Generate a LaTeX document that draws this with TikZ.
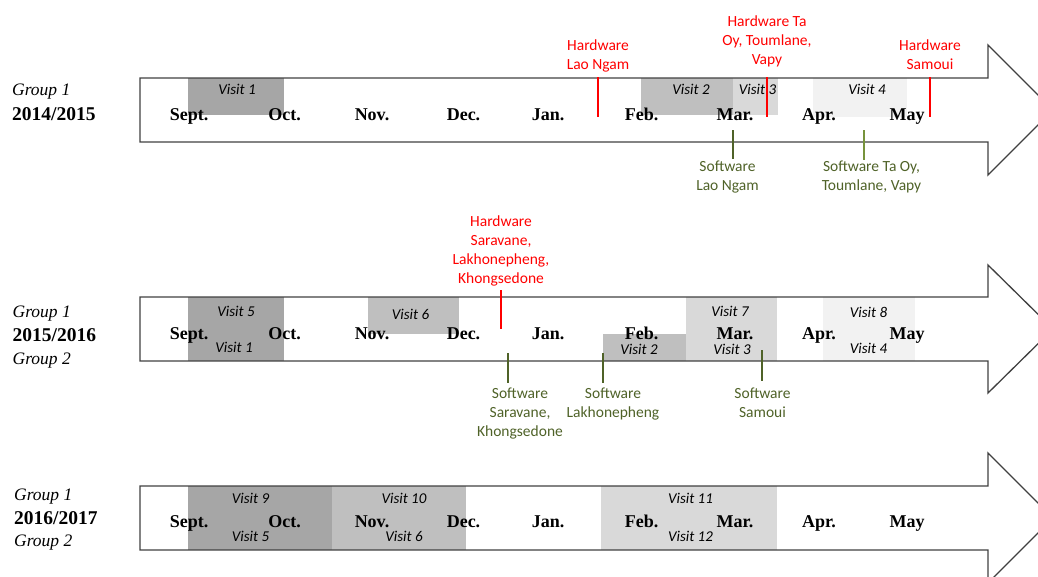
\documentclass[tikz,border=0pt]{standalone}
\usepackage{fontspec}
\newfontfamily\carl{Carlito}
\newfontfamily\lser{Liberation Serif}
\definecolor{hwred}{HTML}{FF0000}
\definecolor{swgreen}{HTML}{4F6228}
\definecolor{swgreenl}{HTML}{77933C}
\definecolor{vA}{HTML}{A6A6A6}
\definecolor{vB}{HTML}{BFBFBF}
\definecolor{vC}{HTML}{D9D9D9}
\definecolor{vD}{HTML}{F2F2F2}
\definecolor{arrowline}{HTML}{404040}
\tikzset{
  month/.style={font=\lser\fontsize{18}{21}\selectfont\bfseries, anchor=base, inner sep=0pt},
  year/.style={font=\lser\fontsize{19.5}{22}\selectfont\bfseries, anchor=base west, inner sep=0pt},
  grp/.style={font=\lser\fontsize{17.5}{21}\selectfont\itshape, anchor=base west, inner sep=0pt},
  visit/.style={font=\carl\fontsize{15}{18}\selectfont\itshape, anchor=base, inner sep=0pt},
  hw/.style={font=\carl\fontsize{15.5}{19}\selectfont, text=hwred, align=center, anchor=north, inner sep=0pt},
  sw/.style={font=\carl\fontsize{15.5}{19}\selectfont, text=swgreen, align=center, anchor=north, inner sep=0pt},
  hwline/.style={draw=hwred, line width=1.2pt},
  swline/.style={draw=swgreen, line width=1.2pt},
  swlinel/.style={draw=swgreenl, line width=1.2pt},
  timearrow/.style={draw=arrowline, line width=1.3pt, line join=miter},
}
\begin{document}
\begin{tikzpicture}[x=1pt,y=-1pt]
\useasboundingbox (0,0) rectangle (1038,576);
\clip (0,0) rectangle (1038,576);

% ---------- Row 1: 2014/2015 ----------
\fill[vA] (188,78) rectangle (284,115);
\fill[vB] (641,78) rectangle (733,115);
\fill[vC] (733,78) rectangle (778,115);
\fill[vD] (813,78) rectangle (907,116.5);
\draw[timearrow] (140,78) -- (988,78) -- (988,45) -- (1053,110) -- (988,175) -- (988,142) -- (140,142) -- cycle;

\node[grp]  (g1a) at (12,95.5) {Group 1};
\node[year] (y1)  at (12,120) {2014/2015};

\node[month] (m1s) at (189,120) {Sept.};
\node[month] (m1o) at (284.5,120) {Oct.};
\node[month] (m1n) at (372,120) {Nov.};
\node[month] (m1d) at (463.5,120) {Dec.};
\node[month] (m1j) at (548,120) {Jan.};
\node[month] (m1f) at (641.5,120) {Feb.};
\node[month] (m1m) at (735,120) {Mar.};
\node[month] (m1a) at (819,120) {Apr.};
\node[month] (m1y) at (907,120) {May};

\node[visit] (v1a) at (237,94.5) {Visit 1};
\node[visit] (v1b) at (691,94.5) {Visit 2};
\node[visit] (v1c) at (757.5,94.5) {Visit 3};
\node[visit] (v1d) at (867,94.5) {Visit 4};

\node[hw] (hw1) at (598,40) {Hardware\\Lao Ngam};
\node[hw] (hw2) at (767,16) {Hardware Ta\\Oy, Toumlane,\\Vapy};
\node[hw] (hw3) at (930,40) {Hardware\\Samoui};
\coordinate (hw1s) at (598,77);
\coordinate (hw2s) at (767,77);
\coordinate (hw3s) at (930,77);
\coordinate (hw1e) at (598,117);
\coordinate (hw2e) at (767,117);
\coordinate (hw3e) at (930,117);
\draw[hwline] (hw1s) -- (hw1e);
\draw[hwline] (hw2s) -- (hw2e);
\draw[hwline] (hw3s) -- (hw3e);

\node[sw] (sw1) at (727.5,161) {Software\\Lao Ngam};
\node[sw] (sw2) at (871.5,161) {Software Ta Oy,\\Toumlane, Vapy};
\coordinate (sw1s) at (733,130);
\coordinate (sw2s) at (864,130);
\coordinate (sw1e) at (733,159);
\coordinate (sw2e) at (864,160);
\draw[swline] (sw1s) -- (sw1e);
\draw[swlinel] (sw2s) -- (sw2e);

% ---------- Row 2: 2015/2016 ----------
\fill[vA] (188,297) rectangle (284,361);
\fill[vB] (368,297) rectangle (459,334);
\fill[vB] (603,334) rectangle (686,361);
\fill[vC] (686,297) rectangle (777,361);
\fill[vD] (823,297) rectangle (915,361);
\draw[timearrow] (140,297) -- (988,297) -- (988,265) -- (1053,329) -- (988,393) -- (988,361) -- (140,361) -- cycle;

\node[grp]  (g2a) at (12.5,317) {Group 1};
\node[year] (y2)  at (12.5,341.5) {2015/2016};
\node[grp]  (g2b) at (12.5,364) {Group 2};

\node[month] (m2s) at (189,339.5) {Sept.};
\node[month] (m2o) at (284.5,339.5) {Oct.};
\node[month] (m2n) at (372,339.5) {Nov.};
\node[month] (m2d) at (463.5,339.5) {Dec.};
\node[month] (m2j) at (548,339.5) {Jan.};
\node[month] (m2f) at (641.5,339.5) {Feb.};
\node[month] (m2m) at (735,339.5) {Mar.};
\node[month] (m2a) at (819,339.5) {Apr.};
\node[month] (m2y) at (907,339.5) {May};

\node[visit] (v2a) at (236,316.5) {Visit 5};
\node[visit] (v2b) at (234,352) {Visit 1};
\node[visit] (v2c) at (410.5,319) {Visit 6};
\node[visit] (v2d) at (639,354) {Visit 2};
\node[visit] (v2e) at (730,316.5) {Visit 7};
\node[visit] (v2f) at (732,354) {Visit 3};
\node[visit] (v2g) at (868.5,317) {Visit 8};
\node[visit] (v2h) at (868.5,353.5) {Visit 4};

\node[hw] (hw4) at (501,216) {Hardware\\Saravane,\\Lakhonepheng,\\Khongsedone};
\coordinate (hw4s) at (501,290);
\coordinate (hw4e) at (501,329);
\draw[hwline] (hw4s) -- (hw4e);

\node[sw] (sw3) at (520,388) {Software\\Saravane,\\Khongsedone};
\node[sw] (sw4) at (613,388) {Software\\Lakhonepheng};
\node[sw] (sw5) at (762.5,388) {Software\\Samoui};
\coordinate (sw3s) at (508,353);
\coordinate (sw4s) at (603,353);
\coordinate (sw5s) at (762,350);
\coordinate (sw3e) at (508,383);
\coordinate (sw4e) at (603,383);
\coordinate (sw5e) at (762,381);
\draw[swline] (sw3s) -- (sw3e);
\draw[swline] (sw4s) -- (sw4e);
\draw[swline] (sw5s) -- (sw5e);

% ---------- Row 3: 2016/2017 ----------
\fill[vA] (188,486) rectangle (332,550);
\fill[vB] (332,486) rectangle (466,550);
\fill[vC] (601,486) rectangle (777,550);
\draw[timearrow] (140,486) -- (988,486) -- (988,453) -- (1053,518) -- (988,583) -- (988,550) -- (140,550) -- cycle;

\node[grp]  (g3a) at (14,500) {Group 1};
\node[year] (y3)  at (14,524) {2016/2017};
\node[grp]  (g3b) at (14,546.5) {Group 2};

\node[month] (m3s) at (189,527.5) {Sept.};
\node[month] (m3o) at (284.5,527.5) {Oct.};
\node[month] (m3n) at (372,527.5) {Nov.};
\node[month] (m3d) at (463.5,527.5) {Dec.};
\node[month] (m3j) at (548,527.5) {Jan.};
\node[month] (m3f) at (641.5,527.5) {Feb.};
\node[month] (m3m) at (735,527.5) {Mar.};
\node[month] (m3a) at (819,527.5) {Apr.};
\node[month] (m3y) at (907,527.5) {May};

\node[visit] (v3a) at (250.5,503) {Visit 9};
\node[visit] (v3b) at (250.5,541.5) {Visit 5};
\node[visit] (v3c) at (404,503) {Visit 10};
\node[visit] (v3d) at (404,541.5) {Visit 6};
\node[visit] (v3e) at (690.5,503) {Visit 11};
\node[visit] (v3f) at (690.5,541.5) {Visit 12};
\end{tikzpicture}
\end{document}
